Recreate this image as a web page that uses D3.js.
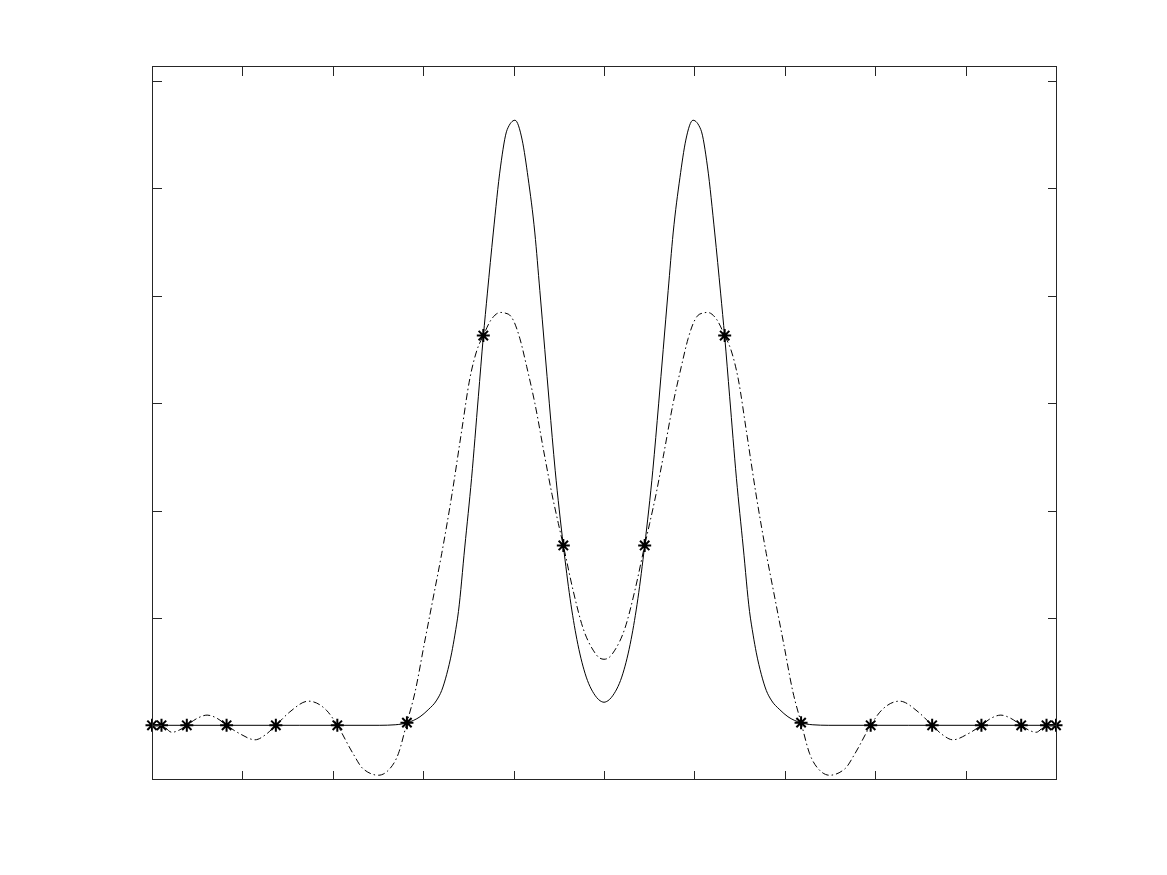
<!DOCTYPE html>
<html>
<head>
<meta charset="utf-8">
<script src="https://cdn.jsdelivr.net/npm/d3@7"></script>
<style>
  html, body { margin: 0; padding: 0; background: #fff; }
  svg { display: block; }
</style>
</head>
<body>
<div id="chart"></div>
<script>
  // function samples (solid line)
  const solidX = [-1.000, -0.673, -0.496, -0.462, -0.435, -0.407, -0.389, -0.370, -0.359, -0.348, -0.337, -0.330,
    -0.322, -0.308, -0.293, -0.278, -0.267, -0.258, -0.245, -0.229, -0.214, -0.197, -0.181, -0.168, -0.153, -0.142,
    -0.131, -0.121, -0.108, -0.090, -0.075, -0.060, -0.042, -0.020, -0.005, 0,
    0.005, 0.020, 0.042, 0.060, 0.075, 0.090, 0.108, 0.121, 0.131, 0.142, 0.153, 0.168, 0.181, 0.197, 0.214, 0.229,
    0.245, 0.258, 0.267, 0.278, 0.293, 0.308, 0.322, 0.330, 0.337, 0.348, 0.359, 0.370, 0.389, 0.407, 0.435, 0.462,
    0.496, 0.673, 1.000];
  const solidY = [0, 0, 0, 0.001, 0.005, 0.016, 0.029, 0.047, 0.065, 0.095, 0.135, 0.168,
    0.212, 0.332, 0.460, 0.612, 0.724, 0.805, 0.917, 1.040, 1.110, 1.127, 1.090, 1.020, 0.917, 0.810,
    0.700, 0.600, 0.475, 0.335, 0.236, 0.160, 0.097, 0.056, 0.044, 0.043,
    0.044, 0.056, 0.097, 0.160, 0.236, 0.335, 0.475, 0.600, 0.700, 0.810, 0.917, 1.020, 1.090, 1.127, 1.110, 1.040,
    0.917, 0.805, 0.724, 0.612, 0.460, 0.332, 0.212, 0.168, 0.135, 0.095, 0.065, 0.047, 0.029, 0.016, 0.005, 0.001,
    0, 0, 0];

  // interpolant (dash-dot line)
  const interpX = [-1.000, -0.979, -0.956, -0.940, -0.923, -0.900, -0.878, -0.856, -0.835, -0.805, -0.772, -0.748,
    -0.726, -0.695, -0.654, -0.614, -0.590, -0.555, -0.533, -0.499, -0.474, -0.455, -0.436, -0.418, -0.398, -0.378,
    -0.359, -0.337, -0.315, -0.297, -0.281, -0.267, -0.250, -0.229, -0.212, -0.201, -0.186, -0.171, -0.153, -0.131,
    -0.115, -0.101, -0.090, -0.068, -0.046, -0.024, -0.009, 0,
    0.009, 0.024, 0.046, 0.068, 0.090, 0.101, 0.115, 0.131, 0.153, 0.171, 0.186, 0.201, 0.212, 0.229, 0.250, 0.267,
    0.281, 0.297, 0.315, 0.337, 0.359, 0.378, 0.398, 0.418, 0.436, 0.455, 0.474, 0.499, 0.533, 0.555, 0.590, 0.614,
    0.654, 0.695, 0.726, 0.748, 0.772, 0.805, 0.835, 0.856, 0.878, 0.900, 0.923, 0.940, 0.956, 0.979, 1.000];
  const interpY = [0, 0, -0.013, -0.009, 0, 0.013, 0.019, 0.013, 0, -0.016, -0.027, -0.017,
    0, 0.025, 0.045, 0.028, 0, -0.053, -0.081, -0.093, -0.081, -0.053, 0.005, 0.062, 0.150, 0.237,
    0.320, 0.427, 0.548, 0.645, 0.699, 0.726, 0.755, 0.769, 0.766, 0.755, 0.720, 0.668, 0.600, 0.500,
    0.430, 0.376, 0.335, 0.250, 0.180, 0.140, 0.125, 0.123,
    0.125, 0.140, 0.180, 0.250, 0.335, 0.376, 0.430, 0.500, 0.600, 0.668, 0.720, 0.755, 0.766, 0.769, 0.755, 0.726,
    0.699, 0.645, 0.548, 0.427, 0.320, 0.237, 0.150, 0.062, 0.005, -0.053, -0.081, -0.093, -0.081, -0.053, 0, 0.028,
    0.045, 0.025, 0, -0.017, -0.027, -0.016, 0, 0.013, 0.019, 0.013, 0, -0.009, -0.013, 0, 0];

  // interpolation nodes (* markers)
  const nodeX = [-1.000, -0.979, -0.923, -0.835, -0.726, -0.590, -0.436, -0.267, -0.090,
    0.090, 0.267, 0.436, 0.590, 0.726, 0.835, 0.923, 0.979, 1.000];
  const nodeY = [0, 0, 0, 0, 0, 0, 0.005, 0.726, 0.335, 0.335, 0.726, 0.005, 0, 0, 0, 0, 0, 0];

  const xTicks = [-1, -0.8, -0.6, -0.4, -0.2, 0, 0.2, 0.4, 0.6, 0.8, 1];
  const yTicks = [0, 0.2, 0.4, 0.6, 0.8, 1, 1.2];

  const width = 1167, height = 875;
  const margin = { top: 66, right: 111, bottom: 96, left: 152 };
  const tickLen = 9;

  const zip = (xs, ys) => d3.range(Math.min(xs.length, ys.length)).map((i) => [xs[i], ys[i]]);
  const solid = zip(solidX, solidY);
  const interp = zip(interpX, interpY);
  const nodes = zip(nodeX, nodeY);

  const x = d3.scaleLinear().domain([-1, 1]).range([margin.left, width - margin.right]);
  const y = d3.scaleLinear().domain([-0.1, 1.228]).range([height - margin.bottom, margin.top]);

  const svg = d3.select("#chart")
    .append("svg")
    .attr("width", width)
    .attr("height", height);

  const line = d3.line()
    .x((d) => x(d[0]))
    .y((d) => y(d[1]))
    .curve(d3.curveMonotoneX);

  svg.append("path")
    .datum(solid)
    .attr("fill", "none")
    .attr("stroke", "#000")
    .attr("stroke-width", 1)
    .attr("d", line);

  svg.append("path")
    .datum(interp)
    .attr("fill", "none")
    .attr("stroke", "#000")
    .attr("stroke-width", 1)
    .attr("stroke-dasharray", "7,3,1.5,3")
    .attr("d", line);

  // asterisk markers
  const r = 6.5, rd = r * 0.72;
  const star = `M${-r},0H${r}M0,${-r}V${r}M${-rd},${-rd}L${rd},${rd}M${-rd},${rd}L${rd},${-rd}`;
  svg.append("g")
    .selectAll("path")
    .data(nodes)
    .join("path")
    .attr("transform", (d) => `translate(${x(d[0])},${y(d[1])})`)
    .attr("d", star)
    .attr("fill", "none")
    .attr("stroke", "#000")
    .attr("stroke-width", 2);

  // axes box with inward ticks on all four sides, no labels
  const x0 = margin.left, x1 = width - margin.right;
  const y0 = height - margin.bottom, y1 = margin.top;

  const axes = svg.append("g")
    .attr("stroke", "#262626")
    .attr("stroke-width", 1)
    .attr("shape-rendering", "crispEdges")
    .attr("fill", "none");

  axes.append("rect")
    .attr("x", x0 + 0.5)
    .attr("y", y1 + 0.5)
    .attr("width", x1 - x0)
    .attr("height", y0 - y1);

  axes.append("g")
    .attr("transform", `translate(0,${y0 + 0.5})`)
    .call(d3.axisTop(x).tickValues(xTicks).tickSize(tickLen).tickFormat(""))
    .call((g) => g.select(".domain").remove());
  axes.append("g")
    .attr("transform", `translate(0,${y1 + 0.5})`)
    .call(d3.axisBottom(x).tickValues(xTicks).tickSize(tickLen).tickFormat(""))
    .call((g) => g.select(".domain").remove());
  axes.append("g")
    .attr("transform", `translate(${x0 + 0.5},0)`)
    .call(d3.axisRight(y).tickValues(yTicks).tickSize(tickLen).tickFormat(""))
    .call((g) => g.select(".domain").remove());
  axes.append("g")
    .attr("transform", `translate(${x1 + 0.5},0)`)
    .call(d3.axisLeft(y).tickValues(yTicks).tickSize(tickLen).tickFormat(""))
    .call((g) => g.select(".domain").remove());

  axes.selectAll(".tick line").attr("stroke", "#262626");
</script>
</body>
</html>
